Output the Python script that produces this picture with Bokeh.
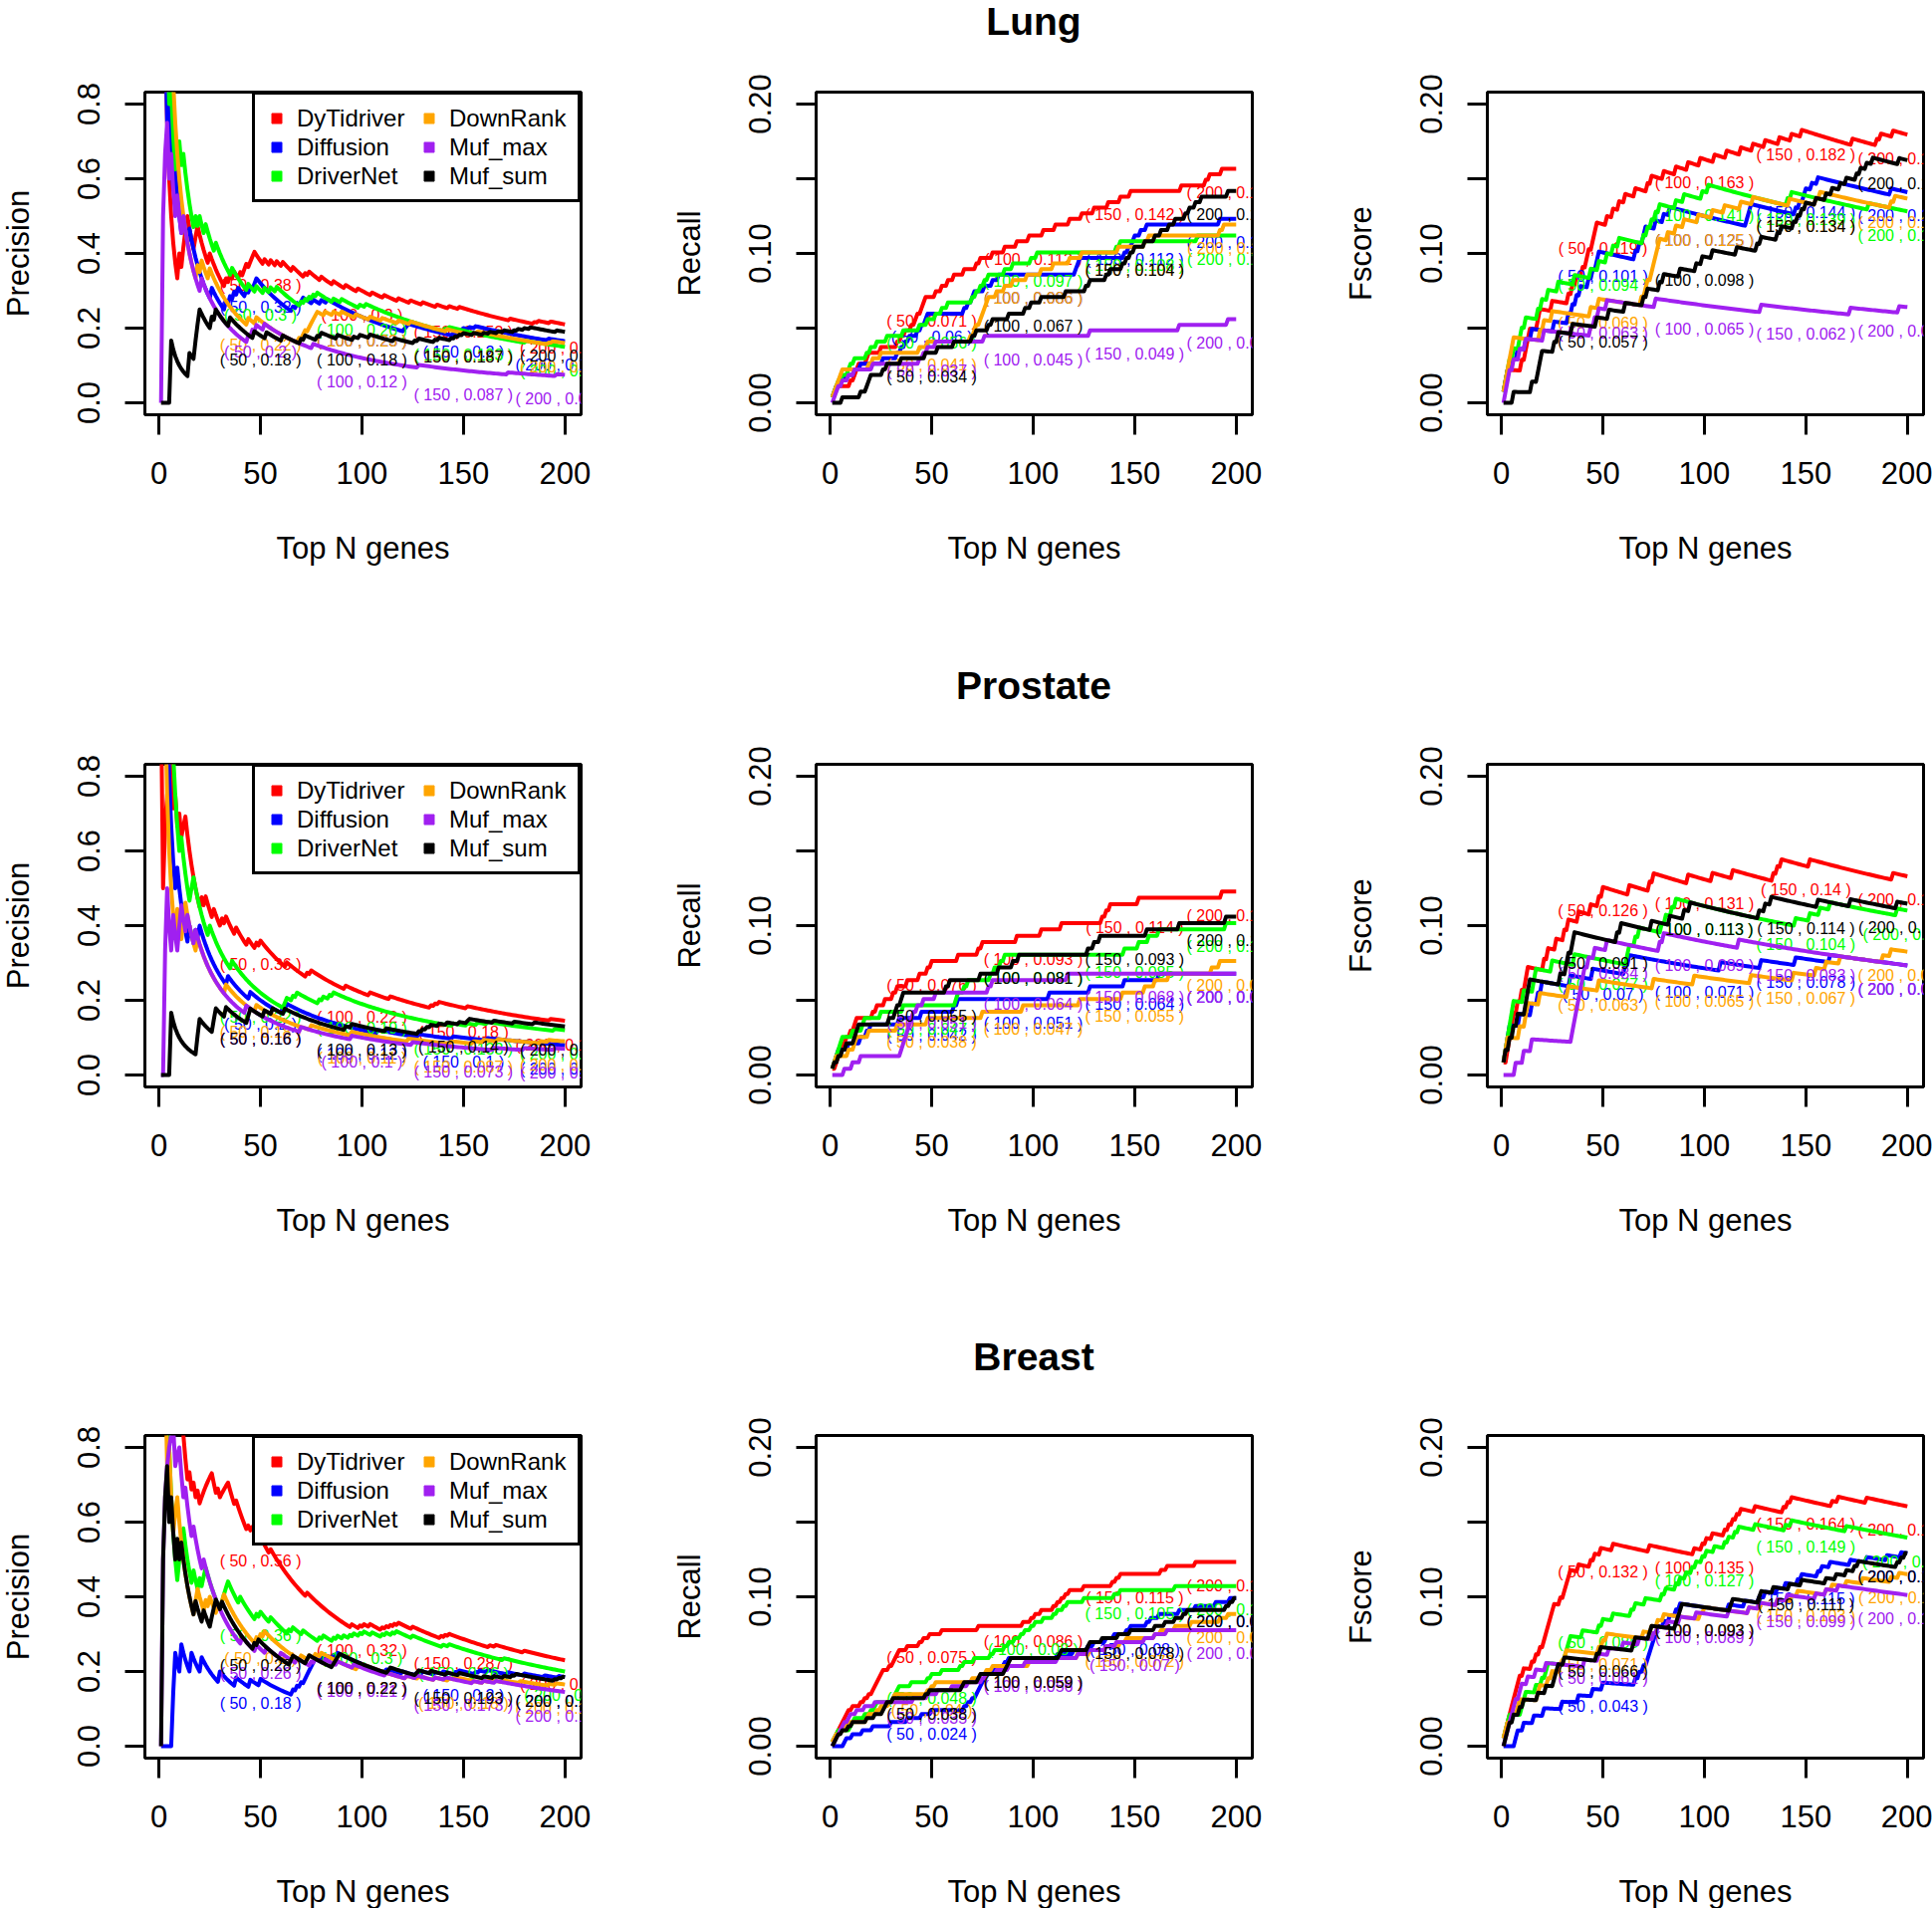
import numpy as np
from bokeh.plotting import figure
from bokeh.layouts import column, row
from bokeh.models import (Range1d, FixedTicker, NumeralTickFormatter, Legend, LegendItem,
                          ColumnDataSource, Div)
from bokeh.core.properties import value
from bokeh.embed import file_html
from bokeh.resources import INLINE

FONT = "Liberation Sans"

# ---------------- data ----------------
cancers = ["Lung", "Prostate", "Breast"]
metrics = ["Precision", "Recall", "Fscore"]
methods = ["DyTidriver", "Diffusion", "DriverNet", "DownRank", "Muf_max", "Muf_sum"]
colors = ["#FF0000", "#0000FF", "#00FF00", "#FFA500", "#A020F0", "#000000"]
known_drivers = [268, 236, 373]          # size of the gold-standard set per cancer
top_n = np.arange(1, 201)                # N = 1..200
label_n = [50, 100, 150, 200]
x_ticks = [0, 50, 100, 150, 200]
precision_ticks = [0, 0.2, 0.4, 0.6, 0.8]
rate_ticks = [0, 0.1, 0.2]
rate_minor_ticks = [0.05, 0.15]

# ranks (within the top-N list) at which a known driver is found
lung_dytidriver = [1, 2, 3, 10, 12, 13, 14, 18, 19, 25, 33, 35, 37, 40, 42, 43, 45, 46, 47, 52, 55, 58, 61, 66,
                   72, 74, 80, 86, 92, 98, 105, 111, 118, 124, 130, 137, 143, 148, 173, 185, 187, 193]
lung_diffusion = [1, 2, 3, 5, 8, 12, 15, 26, 33, 35, 37, 39, 43, 45, 47, 48, 66, 68, 70, 71, 76, 80, 83,
                  121, 122, 123, 145, 147, 149, 150, 153, 156, 192]
lung_drivernet = [1, 2, 3, 4, 6, 9, 10, 12, 18, 20, 23, 28, 36, 44, 48, 52, 55, 58, 70, 72, 74, 76, 78, 86,
                  90, 99, 102, 141, 143, 181]
lung_downrank = [1, 2, 3, 4, 5, 6, 19, 21, 25, 44, 48, 69, 71, 72, 74, 75, 76, 77, 78, 82, 86, 90, 97, 104,
                 110, 118, 124, 142, 155, 157, 192, 194]
lung_muf_max = [2, 3, 4, 6, 9, 12, 21, 44, 46, 48, 52, 76, 128, 172, 196]
lung_muf_sum = [6, 15, 18, 19, 20, 26, 28, 35, 47, 53, 61, 70, 72, 78, 80, 88, 96, 99, 104, 116, 126, 128,
                136, 138, 144, 146, 148, 150, 155, 160, 163, 167, 170, 175, 177, 180, 183, 196]

prostate_dytidriver = [1, 3, 4, 5, 6, 8, 10, 12, 13, 21, 23, 27, 31, 33, 38, 44, 48, 50, 63, 73, 75, 92, 104,
                       114, 134, 136, 138, 152, 193]
prostate_diffusion = [1, 2, 3, 4, 9, 15, 18, 20, 34, 45, 61, 63, 108, 128, 145, 162]
prostate_drivernet = [1, 2, 3, 4, 5, 6, 11, 16, 17, 25, 36, 62, 63, 66, 68, 79, 81, 84, 86, 145, 152, 157,
                      162, 195]
prostate_downrank = [1, 2, 3, 9, 12, 13, 19, 33, 48, 75, 95, 123, 144, 155, 160, 167, 188, 192]
prostate_muf_max = [7, 11, 15, 35, 36, 37, 38, 39, 40, 41, 43, 46, 52, 78, 80, 117]
prostate_muf_sum = [1, 2, 4, 6, 8, 12, 13, 14, 29, 32, 33, 35, 36, 57, 59, 74, 83, 90, 93, 127, 130, 133,
                    156, 172, 195]
# the prostate precision panel shows different curves for these two methods
prostate_muf_max_precision = [3, 4, 7, 10, 11, 14, 18, 43, 70, 95, 125, 165, 180, 195]
prostate_muf_sum_precision = [6, 19, 20, 27, 28, 33, 44, 45, 52, 56, 62, 92, 95, 112, 128, 130, 132, 134,
                              138, 142, 148, 152, 153, 165, 175, 185]

breast_dytidriver = [1, 2, 3, 4, 5, 6, 7, 8, 9, 11, 15, 17, 19, 21, 22, 23, 24, 25, 26, 29, 31, 32, 33, 34,
                     38, 44, 46, 49, 55, 73, 95, 99, 101, 104, 110, 112, 114, 116, 118, 125, 139, 141, 143,
                     163, 166, 180]
breast_diffusion = [7, 8, 11, 16, 21, 30, 38, 45, 50, 66, 68, 70, 72, 73, 74, 75, 76, 77, 80, 83, 86, 88,
                    112, 120, 127, 130, 136, 140, 146, 148, 156, 158, 162, 172, 180, 190, 197]
breast_drivernet = [1, 2, 3, 4, 10, 11, 12, 17, 20, 22, 23, 31, 32, 33, 34, 40, 48, 50, 55, 64, 66, 71, 79,
                    81, 86, 88, 91, 94, 96, 99, 101, 105, 110, 112, 115, 117, 125, 140, 143, 170]
breast_downrank = [1, 2, 3, 5, 8, 9, 18, 19, 23, 25, 29, 31, 32, 48, 50, 52, 70, 74, 77, 80, 98, 100, 122,
                   128, 136, 143, 146, 160, 163, 170, 178, 192, 196]
breast_muf_max = [2, 3, 4, 5, 6, 7, 9, 10, 13, 17, 22, 41, 48, 53, 60, 68, 75, 77, 82, 88, 96, 112, 122,
                  127, 136, 141, 155, 160, 166]
breast_muf_sum = [2, 3, 4, 6, 9, 11, 18, 22, 26, 27, 28, 31, 47, 49, 65, 66, 73, 74, 86, 87, 88, 89, 113,
                  114, 127, 128, 134, 142, 148, 160, 165, 170, 174, 176, 195, 197, 199]

hit_ranks = {
    "Lung": [lung_dytidriver, lung_diffusion, lung_drivernet, lung_downrank, lung_muf_max, lung_muf_sum],
    "Prostate": [prostate_dytidriver, prostate_diffusion, prostate_drivernet, prostate_downrank,
                 prostate_muf_max, prostate_muf_sum],
    "Breast": [breast_dytidriver, breast_diffusion, breast_drivernet, breast_downrank, breast_muf_max,
               breast_muf_sum],
}
precision_override = {("Prostate", "Muf_max"): prostate_muf_max_precision,
                      ("Prostate", "Muf_sum"): prostate_muf_sum_precision}


def cumulative_hits(ranks):
    return np.searchsorted(np.sort(np.asarray(ranks)), top_n, side="right")


def r_num(v):
    return "%g" % round(float(v), 3)


# ---------------- layout ----------------
TITLE_H = 60
BORDER_L = 165                 # left border of every figure (room for y axis)
FRAME_X0 = 145                 # where the first frame starts on the page
FRAME_W, FRAME_H = 438, 324
row_height = [674, 674, 568]
row_top = [92, 93, 93]
col_width = [674, 674, 1940 - 2 * 674 + (BORDER_L - FRAME_X0)]


def make_panel(ci, mi):
    cancer, metric, T = cancers[ci], metrics[mi], known_drivers[ci]
    ymax = 0.8 if metric == "Precision" else 0.2
    top = row_top[ci] - (TITLE_H if mi == 1 else 0)
    height = row_height[ci] - (TITLE_H if mi == 1 else 0)
    p = figure(frame_width=FRAME_W, frame_height=FRAME_H,
               min_border_left=BORDER_L, min_border_right=col_width[mi] - BORDER_L - FRAME_W,
               min_border_top=top, min_border_bottom=height - top - FRAME_H,
               x_range=Range1d(1 - 0.04 * 199, 200 + 0.04 * 199),
               y_range=Range1d(-0.04 * ymax, 1.04 * ymax),
               output_backend="svg", toolbar_location=None, tools="")
    p.xgrid.visible = False
    p.ygrid.visible = False
    p.background_fill_color = "white"
    p.border_fill_color = "white"
    p.outline_line_color = "black"
    p.outline_line_width = 3
    p.outline_line_alpha = 1

    for k, (m, c) in enumerate(zip(methods, colors)):
        ranks = hit_ranks[cancer][k]
        if metric == "Precision":
            ranks = precision_override.get((cancer, m), ranks)
        h = cumulative_hits(ranks)
        if metric == "Precision":
            y = h / top_n
        elif metric == "Recall":
            y = h / T
        else:
            y = 2.0 * h / (top_n + T)
        p.line(top_n, y, line_color=c, line_width=4, line_join="round")
        ly = [float(y[n - 1]) for n in label_n]
        src = ColumnDataSource(dict(x=label_n, y=ly,
                                    t=["( %d , %s )" % (n, r_num(v)) for n, v in zip(label_n, ly)]))
        p.text(x="x", y="y", text="t", source=src, text_color=c, text_font=value(FONT),
               text_font_size="16px", text_align="center", text_baseline="middle", y_offset=24)

    xa, ya = p.xaxis[0], p.yaxis[0]
    xa.ticker = FixedTicker(ticks=x_ticks)
    xa.formatter = NumeralTickFormatter(format="0")
    if metric == "Precision":
        ya.ticker = FixedTicker(ticks=precision_ticks)
        ya.formatter = NumeralTickFormatter(format="0.0")
    else:
        ya.ticker = FixedTicker(ticks=rate_ticks, minor_ticks=rate_minor_ticks)
        ya.formatter = NumeralTickFormatter(format="0.00")
    for ax in (xa, ya):
        ax.axis_line_color = None
        ax.major_tick_out = 20
        ax.major_tick_in = 0
        ax.minor_tick_out = 20
        ax.minor_tick_in = 0
        ax.major_tick_line_width = 3
        ax.minor_tick_line_width = 3
        ax.major_tick_line_color = "black"
        ax.minor_tick_line_color = "black"
        ax.major_label_text_font = FONT
        ax.major_label_text_font_size = "31px"
        ax.major_label_text_color = "black"
        ax.axis_label_text_font = FONT
        ax.axis_label_text_font_size = "31px"
        ax.axis_label_text_font_style = "normal"
        ax.axis_label_text_color = "black"
    xa.major_label_standoff = 27
    xa.axis_label = "Top N genes"
    if ci < 2:
        xa.axis_label_standoff = 44
    else:
        # bottom row: keep the axis panel inside the page height
        xa.major_label_text_line_height = 1.0
        xa.axis_label_text_line_height = 1.0
        xa.axis_label_standoff = 44
    ya.major_label_standoff = 26
    ya.axis_label = metric
    ya.axis_label_standoff = 39
    ya.major_label_orientation = "vertical"

    if metric == "Precision":
        proxies = [p.scatter(x=[np.nan], y=[np.nan], marker="square", color=c, size=10) for c in colors]
        legend = Legend(items=[LegendItem(label=m, renderers=[r]) for m, r in zip(methods, proxies)],
                        location="top_right", ncols=2, orientation="vertical",
                        margin=0, padding=9, spacing=0,
                        glyph_width=25, glyph_height=25, label_standoff=8,
                        label_width=120, label_height=29,
                        label_text_font=FONT, label_text_font_size="24px", label_text_color="black",
                        border_line_color="black", border_line_width=3, border_line_alpha=1,
                        background_fill_color="white", background_fill_alpha=1)
        p.add_layout(legend)
    return p


def make_title(ci):
    line_h = 44 if ci == 0 else 30
    html = ('<div style="width:%dpx; margin-left:%dpx; text-align:center; font-family:\'%s\'; '
            'font-weight:bold; font-size:39px; line-height:%dpx; color:black;">%s</div>'
            % (FRAME_W, BORDER_L, FONT, line_h, cancers[ci]))
    return Div(text=html, width=col_width[1], height=TITLE_H, margin=0)


rows = []
for ci in range(3):
    left = make_panel(ci, 0)
    mid = column(make_title(ci), make_panel(ci, 1), spacing=0)
    right = make_panel(ci, 2)
    rows.append(row(left, mid, right, spacing=0))
layout = column(*rows, spacing=0, margin=(0, 0, 0, FRAME_X0 - BORDER_L))

open("out.html", "w").write(file_html(layout, INLINE))
